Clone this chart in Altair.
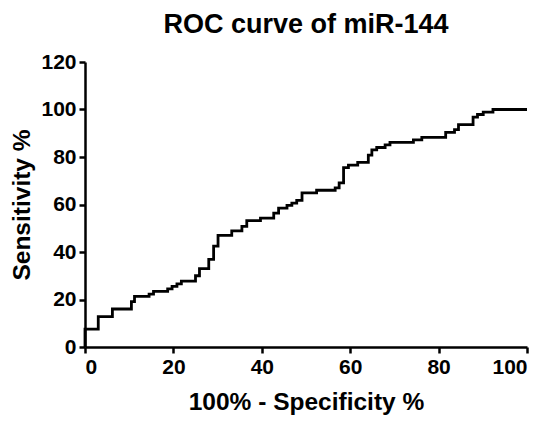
import altair as alt
import pandas as pd

# ROC step curve (100% - Specificity %, Sensitivity %)
fpr = [0, 0, 3.0, 6.2, 10.5, 11.2, 14.5, 15.5, 18.7, 19.7, 20.8, 21.8, 25.0, 25.9,
       28.0, 29.1, 30.1, 33.2, 35.5, 36.6, 39.7, 42.7, 43.8, 45.7, 46.8, 47.9,
       49.1, 52.4, 56.6, 57.5, 58.5, 59.6, 61.7, 64.1, 64.9, 66.0, 67.9, 69.0,
       74.3, 76.2, 81.6, 83.6, 84.5, 87.8, 88.8, 90.1, 92.3, 100]
tpr = [0, 7.5, 12.8, 16.0, 19.1, 21.3, 22.3, 23.4, 24.5, 25.5, 26.6, 27.7, 30.0, 33.0,
       36.9, 42.5, 47.0, 48.9, 50.8, 53.2, 54.3, 56.4, 58.5, 59.6, 60.6, 61.7,
       64.9, 66.0, 67.0, 69.1, 75.5, 76.6, 77.7, 80.8, 83.0, 84.0, 85.1, 86.2,
       87.2, 88.3, 90.4, 91.5, 93.6, 96.8, 97.9, 98.9, 100, 100]
x_ticks = [0, 20, 40, 60, 80, 100]
y_ticks = [0, 20, 40, 60, 80, 100, 120]

df = pd.DataFrame({"x": fpr, "y": tpr, "order": list(range(len(fpr)))})

FONT = "Liberation Sans"

chart = alt.Chart(df).mark_line(
    interpolate="step-after", color="black", strokeWidth=2.8, clip=False
).encode(
    x=alt.X("x:Q", scale=alt.Scale(domain=[0, 100], nice=False),
            axis=alt.Axis(values=x_ticks, title="100% - Specificity %")),
    y=alt.Y("y:Q", scale=alt.Scale(domain=[0, 120], nice=False),
            axis=alt.Axis(values=y_ticks, title="Sensitivity %")),
    order="order:Q",
).properties(
    width=442,
    height=285,
    autosize=alt.AutoSizeParams(type="none"),
    padding={"left": 77, "top": 54, "right": 15, "bottom": 73},
    title=alt.TitleParams(
        "ROC curve of miR-144", font=FONT, fontSize=27, fontWeight="bold",
        color="black", anchor="middle", frame="group", offset=12,
    ),
).configure_view(
    stroke=None
).configure_axis(
    grid=False,
    domainColor="black", domainWidth=2.5,
    tickColor="black", tickWidth=2.5, tickSize=6,
    labelFont=FONT, labelFontSize=21, labelFontWeight="bold", labelColor="black",
    labelPadding=3,
    titleFont=FONT, titleFontSize=24.5, titleFontWeight="bold", titleColor="black",
).configure_axisX(
    titlePadding=13,
).configure_axisY(
    titlePadding=6,
)

chart.save("out.html", embed_options={"renderer": "svg", "actions": False})
